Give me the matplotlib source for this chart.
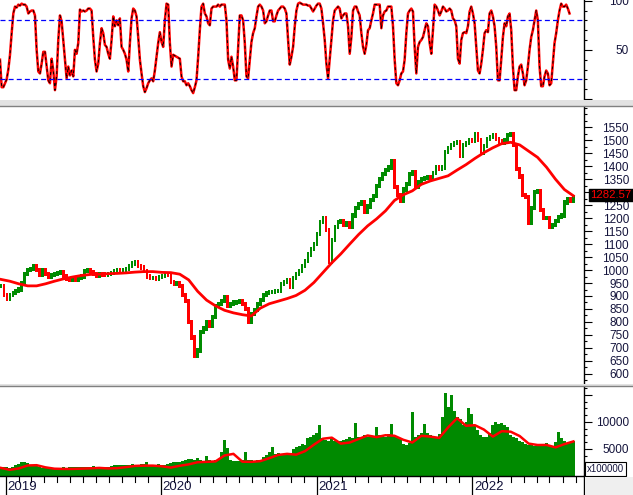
import matplotlib.pyplot as plt
import matplotlib.transforms as mtransforms
from matplotlib.patches import Rectangle
import numpy as np
import pandas as pd

plt.rcParams['font.family'] = ['Liberation Sans', 'DejaVu Sans']

# weekly closes
close = [
    940, 905, 888, 905, 912, 918, 925, 950, 985, 1000,
    1005, 1014, 1000, 983, 1000, 985, 975, 980, 985, 990,
    994, 975, 965, 960, 964, 962, 968, 975, 995, 1000,
    992, 985, 977, 985, 983, 980, 985, 990, 995, 1000,
    995, 1000, 1005, 1015, 1025, 1030, 1015, 1010, 995, 975,
    968, 970, 965, 972, 978, 985, 983, 955, 945, 950,
    940, 905, 880, 800, 740, 670, 690, 760, 775, 800,
    785, 820, 860, 868, 880, 895, 860, 868, 875, 878,
    880, 870, 850, 800, 830, 845, 870, 885, 905, 910,
    914, 916, 918, 920, 945, 955, 960, 935, 970, 985,
    995, 1015, 1035, 1060, 1080, 1100, 1140, 1185, 1200, 1155,
    1030, 1115, 1165, 1185, 1190, 1175, 1180, 1165, 1210, 1240,
    1255, 1260, 1225, 1245, 1270, 1285, 1325, 1350, 1370, 1385,
    1395, 1420, 1320, 1290, 1265, 1310, 1330, 1370, 1378, 1320,
    1340, 1350, 1355, 1358, 1350, 1375, 1397, 1390, 1395, 1455,
    1470, 1480, 1489, 1493, 1440, 1480, 1490, 1500, 1498, 1525,
    1500, 1450, 1478, 1505, 1512, 1518, 1505, 1495, 1490, 1500,
    1520, 1525, 1480, 1390, 1360, 1290, 1280, 1180, 1240, 1300,
    1305, 1230, 1200, 1200, 1165, 1175, 1190, 1205, 1210, 1260,
    1275, 1265, 1282.57,
]

# weekly volume (x100000)
volume = [
    1700, 1700, 1600, 1500, 1600, 2100, 2300, 2500, 2600, 2400,
    2000, 2000, 1900, 1700, 1500, 1450, 1500, 1550, 1500, 1450,
    1500, 1600, 1550, 1700, 1650, 1700, 1600, 1700, 1750, 1650,
    1700, 1800, 1700, 1650, 1700, 1750, 1700, 1900, 2000, 1950,
    2100, 2000, 2100, 2050, 2200, 2100, 2000, 2200, 2300, 2600,
    2100, 2000, 2100, 2200, 2000, 2100, 2200, 2400, 2600, 2500,
    2600, 2800, 3000, 3100, 3200, 3000, 3400, 3000, 2800, 3700,
    2900, 2800, 2900, 3000, 4500, 6700, 5200, 3000, 2800, 2700,
    2700, 2900, 4500, 2900, 2900, 2800, 3000, 2900, 3600, 3900,
    4500, 5400, 4000, 4200, 3900, 4100, 4000, 4200, 5000, 5300,
    5600, 6000, 5800, 7000, 7300, 7600, 7900, 9400, 7000, 6600,
    6400, 6800, 6500, 6500, 6400, 6700, 6800, 7300, 7000, 9900,
    7300, 7200, 7500, 7300, 7400, 7200, 9000, 7600, 7400, 7300,
    7800, 9700, 7500, 7200, 6800, 6000, 5800, 6200, 11900, 7200,
    7500, 8000, 9700, 8000, 7500, 7400, 7200, 7700, 11000, 15300,
    12800, 15000, 12000, 11000, 10500, 9500, 10000, 12500, 11500, 9500,
    8500, 7500, 7200, 7300, 8000, 9500, 10000, 9600, 9800, 9500,
    9000, 7500, 7200, 7000, 6400, 6300, 6000, 5800, 6200, 5600,
    5900, 5800, 6000, 6200, 5600, 5500, 6300, 8100, 7000, 6500,
    6200, 6300, 6400,
]

# long moving average of the index, every third week
ma_price = [
    964, 957, 947, 939, 939, 947, 957, 966, 973, 979,
    983, 984, 986, 987, 989, 992, 994, 994, 991, 990,
    984, 962, 918, 884, 862, 845, 835, 828, 823, 853,
    870, 880, 890, 902, 922, 952, 990, 1028, 1062, 1100,
    1137, 1170, 1197, 1228, 1268, 1290, 1305, 1330, 1343, 1353,
    1363, 1385, 1406, 1430, 1452, 1471, 1487, 1492, 1482, 1458,
    1434, 1396, 1350, 1310, 1286,
]

# volume moving average, every third week
ma_volume = [
    1500, 1150, 1400, 1950, 2000, 1600, 1350, 1310, 1310, 1360,
    1420, 1500, 1400, 1450, 1650, 1870, 1920, 1920, 1800, 1560,
    1900, 2150, 2550, 2620, 2700, 3800, 4100, 2650, 2620, 2750,
    3300, 3900, 4100, 3950, 4600, 5800, 6900, 7100, 6000, 6200,
    6860, 7500, 7200, 7550, 7450, 6700, 6200, 7450, 7300, 7050,
    9000, 10700, 9300, 9400, 8600, 7300, 8300, 8200, 7400, 6000,
    5740, 5750, 5300, 5900, 6400,
]

# stochastic oscillator
stoch = [
    40, 12, 12, 16, 20, 30, 45, 67, 87, 94,
    93, 96, 95, 97, 96, 96, 94, 87, 89, 90,
    90, 85, 50, 28, 26, 36, 48, 48, 33, 19,
    16, 41, 29, 9, 23, 60, 85, 79, 60, 40,
    21, 33, 24, 29, 23, 50, 46, 57, 91, 89,
    90, 89, 90, 92, 92, 90, 63, 40, 28, 36,
    57, 72, 67, 55, 53, 46, 41, 60, 84, 74,
    80, 75, 82, 53, 50, 46, 40, 28, 57, 82,
    92, 90, 84, 63, 40, 26, 13, 7, 11, 16,
    19, 21, 18, 29, 43, 57, 68, 58, 53, 80,
    97, 96, 57, 33, 45, 44, 43, 42, 41, 23,
    18, 18, 14, 16, 13, 9, 6,
    12, 19, 43, 70, 94, 97, 87, 84, 77, 75,
    92, 94, 94, 94, 96, 94, 96, 96, 96, 80,
    40, 31, 43, 33, 19, 19, 52, 85, 85, 80,
    57, 23, 21, 40, 58, 67, 72, 84, 94, 96,
    94, 90, 77, 79, 85, 90, 90, 79, 79, 85,
    90, 92, 94, 94, 92, 87, 60, 35, 43, 53,
    74, 90, 97, 98, 97, 96, 96, 96, 95, 95,
    92, 89, 92, 95, 97, 97, 92, 77, 60, 36,
    21, 40, 60, 80, 90, 92, 94, 92, 82, 85,
    87, 87, 74, 46, 63, 90, 94, 94, 89, 85,
    67, 53, 46, 55, 70, 72, 80, 87, 96, 96,
    96, 96, 72, 85, 89, 90, 94,
    94, 94, 74, 40, 16, 14, 19, 26, 28, 40,
    67, 87, 90, 92, 89, 53, 26, 53, 58, 60,
    63, 70, 77, 74, 57, 46, 70, 96, 94, 90,
    85, 89, 94, 92, 89, 90, 92, 90, 82, 80,
    74, 41, 36, 60, 67, 68, 67, 74, 89, 94,
    87, 77, 53, 29, 26, 36, 50, 67, 70, 68,
    87, 90, 84, 74, 53, 19, 19, 40, 63, 77,
    74, 84, 87, 70, 33, 9, 9, 23, 33, 35,
    26, 14, 19, 33, 50, 63, 70, 80, 90, 80,
    33, 13, 13, 23, 29, 26, 14, 16, 36, 57,
    67, 80, 90, 97, 94, 94, 96, 92, 87,
]

week_dates = pd.date_range('2018-12-21', periods=len(close), freq='W-FRI')
ma_dates = pd.date_range('2018-12-21', periods=len(ma_price), freq='3W-FRI')
stoch_dates = pd.date_range('2018-12-19', '2022-08-17', periods=len(stoch))

W, H = 633, 495
TXT = '#14143c'
fig = plt.figure(figsize=(W / 100, H / 100), dpi=100)


def box(l, t, r, b):
    return [l / W, 1 - b / H, (r - l) / W, (b - t) / H]


ax_st = fig.add_axes(box(0, 0, 584, 100))
ax_pr = fig.add_axes(box(0, 107, 584, 384), sharex=ax_st)
ax_vol = fig.add_axes(box(0, 387, 584, 476), sharex=ax_st)
ax_x = fig.add_axes(box(0, 476, 584, 495), sharex=ax_st)


def style(ax):
    for s in ['left', 'top', 'bottom']:
        ax.spines[s].set_visible(False)
    ax.spines['right'].set_linewidth(1.0)
    ax.xaxis.set_visible(False)
    ax.yaxis.tick_right()
    ax.tick_params(axis='y', which='major', length=5.8, width=0.8, pad=26.6,
                   labelsize=8.5, labelcolor=TXT)
    ax.tick_params(axis='y', which='minor', length=2.3, width=0.8)


# stochastic panel
style(ax_st)
ax_st.plot(stoch_dates, stoch, color='#ff0000', lw=1.8)
ax_st.plot(stoch_dates, stoch, color='black', lw=0.7, dashes=(3, 3))
for lvl in (20, 80):
    ax_st.axhline(lvl, color='#0000ff', lw=0.9, dashes=(4, 2.5))
ax_st.set_ylim(-1, 100.7)
ax_st.set_yticks([0, 50, 100])
ax_st.set_yticklabels(['', '50', '100'])
ax_st.set_yticks(range(0, 101, 10), minor=True)
plt.setp(ax_st.get_yticklabels(), ha='right')

# price panel
style(ax_pr)
c = np.array(close, dtype=float)
o = np.r_[c[0], c[:-1]]
lo = np.minimum(o, c) - 8
hi = np.maximum(o, c) + 8
cols = np.where(c >= o, '#008c00', '#ff0000')
ax_pr.bar(week_dates, hi - lo, bottom=lo, width=6, color=cols, linewidth=0)
ax_pr.plot(ma_dates, ma_price, color='#ff0000', lw=2.0)
ax_pr.set_ylim(561, 1628)
price_ticks = list(range(600, 1551, 50))
ax_pr.set_yticks(price_ticks)
# the 1300 label sits under the last-price box
ax_pr.set_yticklabels(['' if t == 1300 else str(t) for t in price_ticks])
ax_pr.set_yticks(range(575, 1626, 25), minor=True)
plt.setp(ax_pr.get_yticklabels(), ha='right')
trans = mtransforms.blended_transform_factory(ax_pr.transAxes, ax_pr.transData)
last_box = trans + mtransforms.ScaledTranslation(0, 2 / 100, fig.dpi_scale_trans)
ax_pr.text(1.011, close[-1], f'{close[-1]:.2f}', transform=last_box, ha='left',
           va='center', color='#ff0000', fontsize=8.2, clip_on=False, zorder=10,
           bbox=dict(boxstyle='square,pad=0.1', fc='black', ec='black'))

# volume panel
style(ax_vol)
ax_vol.bar(week_dates, volume, width=7, color='#008a00', linewidth=0)
ax_vol.plot(ma_dates, ma_volume, color='#ff0000', lw=1.8)
ax_vol.set_ylim(0, 16480)
ax_vol.set_yticks([5000, 10000, 15000])
ax_vol.set_yticklabels(['5000', '10000', ''])
ax_vol.set_yticks(np.arange(1250, 16300, 1250), minor=True)
plt.setp(ax_vol.get_yticklabels(), ha='right')
ax_vol.text(1.005, 0.08, 'x100000', transform=ax_vol.transAxes, ha='left',
            va='center', fontsize=7, color=TXT, clip_on=False,
            bbox=dict(boxstyle='square,pad=0.2', fc='white', ec='black', lw=0.8))

# date strip
for s in ['left', 'bottom']:
    ax_x.spines[s].set_visible(False)
ax_x.spines['top'].set_linewidth(1.0)
ax_x.spines['right'].set_linewidth(1.0)
ax_x.set_xticks([])
ax_x.set_yticks([])
ax_x.set_ylim(0, 1)
months = pd.date_range('2019-01-01', '2022-09-01', freq='MS')
for m in months:
    if m.month == 1:
        ax_x.axvline(m, color='black', lw=0.9)
        ax_x.text(m + pd.Timedelta(days=4), 0.4, str(m.year), fontsize=9.5,
                  ha='left', va='center', color=TXT)
    else:
        ax_x.axvline(m, ymin=0.7, ymax=1, color='black', lw=0.8)

ax_st.set_xlim(pd.Timestamp('2018-12-19'), pd.Timestamp('2022-09-20'))

# panel separators and corner
for top, bot in ((100, 107), (384, 387)):
    fig.patches.append(Rectangle((0, 1 - bot / H), 1, (bot - top) / H,
                                 transform=fig.transFigure, fc='#e2e2e2', ec='none'))
    fig.add_artist(plt.Line2D([0, 1], [1 - (bot - 1) / H] * 2, color='#808080', lw=1.0))
fig.patches.append(Rectangle((585 / W, 0), 1, 18 / H, transform=fig.transFigure,
                             fc='#efefef', ec='none'))

fig.savefig('out.png', dpi=100)
